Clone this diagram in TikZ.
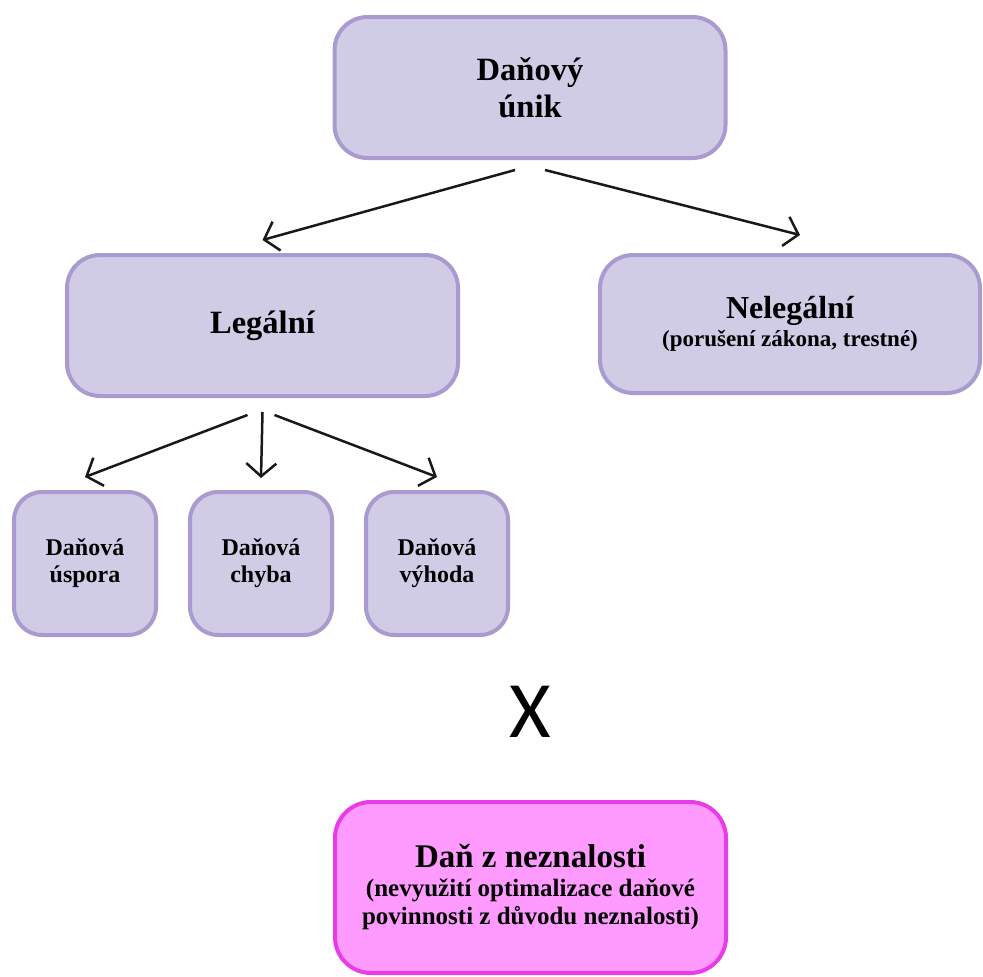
\documentclass[tikz,border=0pt]{standalone}
\usepackage{fontspec}
\setmainfont{Liberation Serif}
\newfontfamily\xfont{Carlito}
\usetikzlibrary{arrows.meta}
\definecolor{lavfill}{RGB}{208,204,230}
\definecolor{lavdraw}{RGB}{169,155,207}
\definecolor{pinkfill}{RGB}{255,155,255}
\definecolor{pinkdraw}{RGB}{232,60,232}
\tikzset{
  box/.style={draw=lavdraw, fill=lavfill, line width=4pt, rounded corners=33pt,
    align=center, inner sep=0pt, font=\bfseries},
  bigbox/.style={box, minimum width=391pt, minimum height=141pt},
  smallbox/.style={box, rounded corners=28pt, minimum width=142pt, minimum height=143pt,
    font=\bfseries\fontsize{24}{27}\selectfont},
  pinkbox/.style={box, draw=pinkdraw, fill=pinkfill, rounded corners=36pt},
  arr/.style={line width=2.5pt, draw=black!90, -{Straight Barb[length=13pt,width=30pt,line width=2.5pt]}},
}
\begin{document}
\begin{tikzpicture}[x=1pt,y=1pt]
\useasboundingbox (0,0) rectangle (983,-977);
\node[bigbox, font=\bfseries\fontsize{32.5}{37}\selectfont] (top) at (530,-87.5) {Daňový\\únik};
\node[bigbox, font=\bfseries\fontsize{32.5}{37}\selectfont] (legal) at (262.5,-325.5) {Legální};
\node[bigbox, minimum width=380pt, minimum height=138pt, font=\bfseries\fontsize{23}{28}\selectfont] (nel) at (790,-324)
  {{\fontsize{32}{28}\selectfont Nelegální}\\(porušení zákona, trestné)};
\node[smallbox] (s1) at (85,-563.5) {Daňová\\úspora};
\node[smallbox] (s2) at (261,-563.5) {Daňová\\chyba};
\node[smallbox] (s3) at (437,-563.5) {Daňová\\výhoda};
\node[font=\xfont\fontsize{80}{80}\selectfont, inner sep=0pt] (x) at (530,-712) {X};
\node[pinkbox, minimum width=391pt, minimum height=171pt, font=\bfseries\fontsize{25}{28.5}\selectfont] (dan) at (530.5,-887.5)
  {{\fontsize{33}{31}\selectfont Daň z neznalosti}\\(nevyužití optimalizace daňové\\povinnosti z důvodu neznalosti)};
\draw[arr] ([xshift=-15pt,yshift=-10pt]top.south) -- ([xshift=0pt,yshift=13pt]legal.north);
\draw[arr] ([xshift=15pt,yshift=-10pt]top.south) -- ([xshift=10pt,yshift=18pt]nel.north);
\draw[arr] ([xshift=-15pt,yshift=-17pt]legal.south) -- ([yshift=13pt]s1.north);
\draw[arr] ([xshift=0pt,yshift=-14pt]legal.south) -- ([yshift=12pt]s2.north);
\draw[arr] ([xshift=12pt,yshift=-17pt]legal.south) -- ([yshift=13pt]s3.north);
\end{tikzpicture}
\end{document}
